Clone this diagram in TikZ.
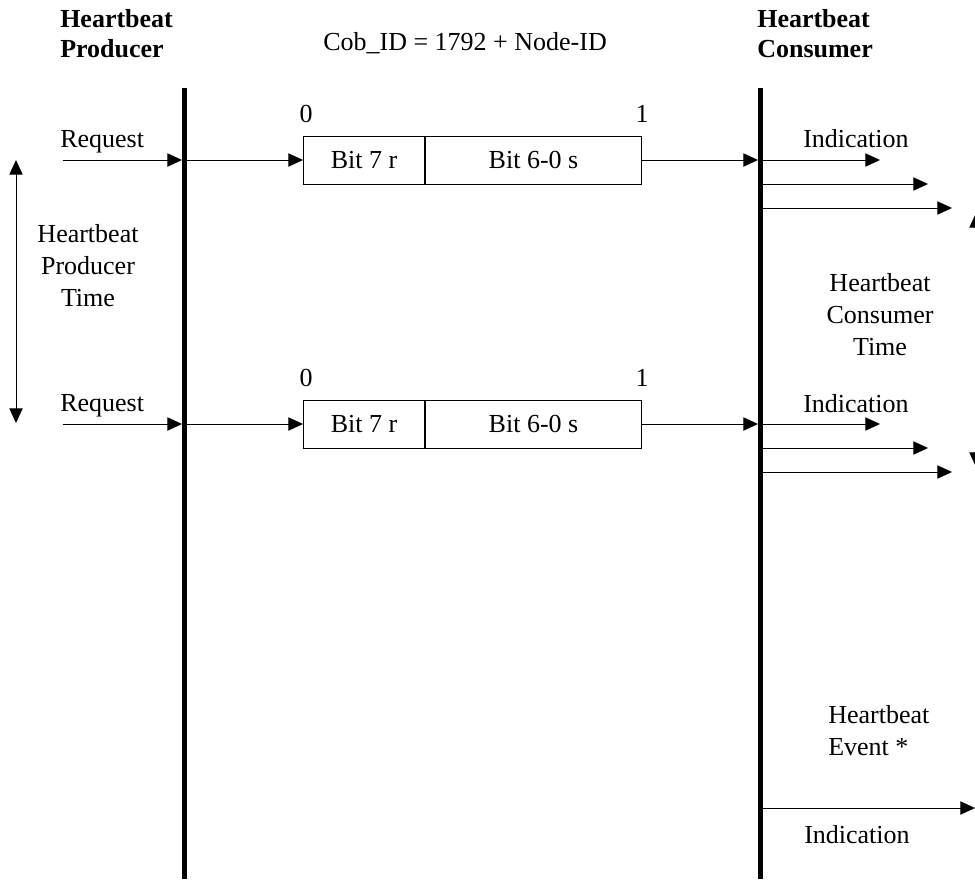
\documentclass[tikz,border=0pt]{standalone}
\usepackage{fontspec}
\setmainfont{Liberation Serif}
\usetikzlibrary{arrows.meta}
\begin{document}
\begin{tikzpicture}[x=0.75pt,y=-0.75pt,
  txt/.style={font=\fontsize{19.5}{24}\selectfont, inner sep=0pt},
  head/.style={font=\fontsize{19.5}{22.5}\selectfont\bfseries, inner sep=0pt, align=left},
  lifeline/.style={line width=3.75pt},
  tip/.tip={Triangle[length=11pt,width=10pt]},
  msg/.style={line width=0.7pt, -tip},
  twoway/.style={line width=0.7pt, tip-tip},
  field/.style={draw, line width=0.75pt, minimum height=36pt, inner sep=0pt,
    font=\fontsize{19.5}{24}\selectfont},
]
\useasboundingbox (0,0) rectangle (975,879);
\clip (0,0) rectangle (975,879);

% headings
\node[head, anchor=west] (hprod) at (60,33.5) {Heartbeat\\Producer};
\node[head, anchor=west] (hcons) at (757,33.5) {Heartbeat\\Consumer};
\node[txt, anchor=base west] (cobid) at (323,50) {Cob\_ID = 1792 + Node-ID};

% lifelines
\coordinate (ptop) at (184.5,88);
\coordinate (pbot) at (184.5,879);
\coordinate (ctop) at (760.5,88);
\coordinate (cbot) at (760.5,879);
\draw[lifeline] (ptop) -- (pbot);
\draw[lifeline] (ctop) -- (cbot);

% producer time span
\coordinate (pt1) at (16,160);
\coordinate (pt2) at (16,423);
\draw[twoway] (pt1) -- (pt2);
\node[txt, align=center] (ptime) at (88,266) {Heartbeat\\Producer\\Time};

% consumer time span (runs off the right edge)
\coordinate (ct1) at (976,213);
\coordinate (ct2) at (976,467);
\draw[twoway] (ct1) -- (ct2);
\node[txt, align=center] (ctime) at (880,315) {Heartbeat\\Consumer\\Time};

% first heartbeat message
\node[txt, anchor=base west] (req1) at (60,147) {Request};
\coordinate (rs1) at (63,160);
\coordinate (pin1) at (182,160);
\coordinate (pout1) at (184.5,160);
\node[field, minimum width=90.75pt] (b7a) at (364,160) {Bit 7 r};
\node[field, minimum width=162pt, anchor=west] (b6a) at (b7a.east) {Bit 6-0 s};
\node[txt, anchor=base] (z1) at (306,122) {0};
\node[txt, anchor=base] (o1) at (642,122) {1};
\coordinate (cin1) at (758,160);
\draw[msg] (rs1) -- (pin1);
\draw[msg] (pout1) -- (b7a.west);
\draw[msg] (b6a.east) -- (cin1);
\node[txt, anchor=base west] (ind1) at (803,147) {Indication};
\coordinate (c1a) at (760.5,160);
\coordinate (c1b) at (760.5,184);
\coordinate (c1c) at (760.5,208);
\coordinate (e1a) at (880,160);
\coordinate (e1b) at (928,184);
\coordinate (e1c) at (952,208);
\draw[msg] (c1a) -- (e1a);
\draw[msg] (c1b) -- (e1b);
\draw[msg] (c1c) -- (e1c);

% second heartbeat message
\node[txt, anchor=base west] (req2) at (60,411) {Request};
\coordinate (rs2) at (63,424);
\coordinate (pin2) at (182,424);
\coordinate (pout2) at (184.5,424);
\node[field, minimum width=90.75pt] (b7b) at (364,424) {Bit 7 r};
\node[field, minimum width=162pt, anchor=west] (b6b) at (b7b.east) {Bit 6-0 s};
\node[txt, anchor=base] (z2) at (306,386) {0};
\node[txt, anchor=base] (o2) at (642,386) {1};
\coordinate (cin2) at (758,424);
\draw[msg] (rs2) -- (pin2);
\draw[msg] (pout2) -- (b7b.west);
\draw[msg] (b6b.east) -- (cin2);
\node[txt, anchor=base west] (ind2) at (803,412) {Indication};
\coordinate (c2a) at (760.5,424);
\coordinate (c2b) at (760.5,448);
\coordinate (c2c) at (760.5,472);
\coordinate (e2a) at (880,424);
\coordinate (e2b) at (928,448);
\coordinate (e2c) at (952,472);
\draw[msg] (c2a) -- (e2a);
\draw[msg] (c2b) -- (e2b);
\draw[msg] (c2c) -- (e2c);

% heartbeat event
\node[txt, align=left, anchor=west] (hbev) at (828,731) {Heartbeat\\Event *};
\coordinate (c3) at (760.5,808);
\coordinate (e3) at (975,808);
\draw[msg] (c3) -- (e3);
\node[txt, anchor=base west] (ind3) at (804,843) {Indication};
\end{tikzpicture}
\end{document}
